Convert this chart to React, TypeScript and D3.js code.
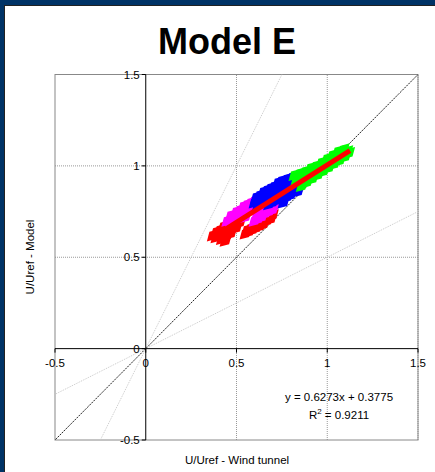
import React, { useEffect, useRef } from 'react';
import * as d3 from 'd3';

// series: [U/Uref wind tunnel, U/Uref model]
const redPts: [number, number][] = [
  [0.37, 0.62], [0.39, 0.61], [0.39, 0.64], [0.41, 0.62], [0.41, 0.65], [0.42, 0.60], [0.43, 0.63],
  [0.44, 0.59], [0.44, 0.66], [0.45, 0.62], [0.46, 0.65], [0.46, 0.68], [0.47, 0.63], [0.48, 0.67],
  [0.49, 0.69], [0.50, 0.66], [0.50, 0.70], [0.51, 0.72], [0.52, 0.69], [0.43, 0.67],
  [0.55, 0.63], [0.56, 0.65], [0.57, 0.64], [0.58, 0.66], [0.59, 0.65], [0.60, 0.67], [0.61, 0.66],
  [0.62, 0.68], [0.63, 0.67], [0.64, 0.70], [0.65, 0.68], [0.66, 0.71], [0.67, 0.70], [0.68, 0.72],
  [0.69, 0.71], [0.70, 0.73]
];
const magentaPts: [number, number][] = [
  [0.45, 0.70], [0.47, 0.70], [0.47, 0.73], [0.49, 0.72], [0.50, 0.75], [0.51, 0.73], [0.52, 0.76],
  [0.53, 0.74], [0.54, 0.78], [0.55, 0.76], [0.56, 0.79], [0.57, 0.77], [0.58, 0.80], [0.59, 0.78],
  [0.60, 0.81], [0.55, 0.72],
  [0.60, 0.70], [0.61, 0.72], [0.62, 0.71], [0.63, 0.74], [0.64, 0.72], [0.65, 0.75], [0.66, 0.74],
  [0.67, 0.77], [0.68, 0.75], [0.69, 0.77], [0.70, 0.76], [0.71, 0.78]
];
const bluePts: [number, number][] = [
  [0.60, 0.80], [0.61, 0.83], [0.62, 0.79], [0.63, 0.84], [0.64, 0.81], [0.65, 0.86], [0.66, 0.82],
  [0.67, 0.87], [0.68, 0.84], [0.69, 0.88], [0.70, 0.85], [0.71, 0.89], [0.72, 0.81], [0.72, 0.86],
  [0.73, 0.91], [0.74, 0.83], [0.74, 0.88], [0.75, 0.92], [0.76, 0.80], [0.76, 0.86], [0.77, 0.90],
  [0.78, 0.93], [0.78, 0.83], [0.79, 0.88], [0.80, 0.92], [0.80, 0.84], [0.81, 0.94], [0.82, 0.87],
  [0.82, 0.91], [0.84, 0.86], [0.85, 0.89], [0.70, 0.80], [0.68, 0.79]
];
const greenPts: [number, number][] = [
  [0.82, 0.95], [0.83, 0.92], [0.85, 0.96], [0.86, 0.89], [0.87, 0.93], [0.88, 0.97], [0.89, 0.91],
  [0.90, 0.95], [0.91, 0.99], [0.92, 0.93], [0.93, 0.97], [0.94, 1.00], [0.95, 0.95], [0.96, 0.99],
  [0.97, 1.02], [0.98, 0.97], [0.99, 1.01], [1.00, 1.04], [1.01, 0.99], [1.02, 1.03], [1.03, 1.06],
  [1.04, 1.01], [1.05, 1.05], [1.06, 1.08], [1.07, 1.03], [1.08, 1.07], [1.09, 1.09], [1.10, 1.05],
  [1.11, 1.08], [1.12, 1.07]
];
const seriesColors = ['#ff0000', '#ff00ff', '#0000ff', '#00ff00'];

const fitSlope = 0.6273;
const fitIntercept = 0.3775;
const fitRange = [0.43, 1.125];

const tickVals = [-0.5, 0, 0.5, 1, 1.5];
const gridVals = [0.5, 1, 1.5];
const refSlopes = [1, 2, 0.5];

export default function App() {
  const ref = useRef<SVGSVGElement>(null);

  useEffect(() => {
    const svg = d3.select(ref.current);
    svg.selectAll('*').remove();

    const x = d3.scaleLinear().domain([-0.5, 1.5]).range([55, 418]);
    const y = d3.scaleLinear().domain([-0.5, 1.5]).range([440, 74.5]);

    svg.append('rect').attr('width', 435).attr('height', 472).attr('fill', '#fff');
    // dark frame
    svg.append('rect').attr('x', 0).attr('y', 0).attr('width', 435).attr('height', 5).attr('fill', '#003366');
    svg.append('rect').attr('x', 0).attr('y', 0).attr('width', 4).attr('height', 472).attr('fill', '#003366');
    svg.append('line').attr('x1', 4.5).attr('x2', 4.5).attr('y1', 5).attr('y2', 472).attr('stroke', '#222').attr('stroke-width', 1);
    svg.append('line').attr('x1', 4).attr('x2', 435).attr('y1', 5.5).attr('y2', 5.5).attr('stroke', '#222').attr('stroke-width', 1);

    svg.append('text').attr('x', 227).attr('y', 54).attr('text-anchor', 'middle')
      .attr('font-family', 'Liberation Sans, Arial, sans-serif').attr('font-weight', 'bold')
      .attr('font-size', 36).text('Model E');

    // grid
    const g = svg.append('g');
    gridVals.forEach(v => {
      g.append('line').attr('x1', x(v)).attr('x2', x(v)).attr('y1', y(-0.5)).attr('y2', y(1.5))
        .attr('stroke', '#999').attr('stroke-dasharray', '1,1');
      g.append('line').attr('x1', x(-0.5)).attr('x2', x(1.5)).attr('y1', y(v)).attr('y2', y(v))
        .attr('stroke', '#999').attr('stroke-dasharray', '1,1');
    });
    g.append('rect').attr('x', x(-0.5)).attr('y', y(1.5)).attr('width', x(1.5) - x(-0.5))
      .attr('height', y(-0.5) - y(1.5)).attr('fill', 'none').attr('stroke', '#888');

    // reference lines y = k x, clipped to the plot
    svg.append('clipPath').attr('id', 'pc').append('rect')
      .attr('x', x(-0.5)).attr('y', y(1.5)).attr('width', x(1.5) - x(-0.5)).attr('height', y(-0.5) - y(1.5));
    const refG = svg.append('g').attr('clip-path', 'url(#pc)');
    refSlopes.forEach(k => {
      refG.append('line').attr('x1', x(-2)).attr('y1', y(-2 * k)).attr('x2', x(2)).attr('y2', y(2 * k))
        .attr('stroke', k === 1 ? '#222' : '#c8c8c8').attr('stroke-width', 1)
        .attr('stroke-dasharray', k === 1 ? '2,1' : '1,1');
    });

    // axes through zero
    const ax = svg.append('g');
    ax.append('line').attr('x1', x(-0.5)).attr('x2', x(1.5)).attr('y1', y(0)).attr('y2', y(0)).attr('stroke', '#000');
    ax.append('line').attr('x1', x(0)).attr('x2', x(0)).attr('y1', y(-0.5)).attr('y2', y(1.5)).attr('stroke', '#000');
    tickVals.forEach(v => {
      ax.append('line').attr('x1', x(v)).attr('x2', x(v)).attr('y1', y(0)).attr('y2', y(0) + 4).attr('stroke', '#000');
      ax.append('line').attr('x1', x(0) - 4).attr('x2', x(0)).attr('y1', y(v)).attr('y2', y(v)).attr('stroke', '#000');
      ax.append('text').attr('x', x(v)).attr('y', y(0) + 18).attr('text-anchor', 'middle')
        .attr('font-family', 'Liberation Sans, Arial, sans-serif').attr('font-size', 11.5).text(String(v));
      ax.append('text').attr('x', x(0) - 6).attr('y', y(v) + 4).attr('text-anchor', 'end')
        .attr('font-family', 'Liberation Sans, Arial, sans-serif').attr('font-size', 11.5).text(String(v));
    });

    // scatter
    const diamond = d3.symbol().type(d3.symbolDiamond).size(50);
    [redPts, magentaPts, bluePts, greenPts].forEach((pts, i) => {
      svg.append('g').selectAll('path').data(pts).enter().append('path')
        .attr('d', diamond)
        .attr('transform', d => `translate(${x(d[0])},${y(d[1])}) rotate(45)`)
        .attr('fill', seriesColors[i]).attr('stroke', seriesColors[i]).attr('stroke-width', 2);
    });

    // trend line
    const line = d3.line<number>().x(d => x(d)).y(d => y(fitSlope * d + fitIntercept));
    svg.append('path').datum(fitRange).attr('d', line).attr('stroke', '#ff0000')
      .attr('stroke-width', 5).attr('fill', 'none');

    const ann = svg.append('g').attr('font-family', 'Liberation Sans, Arial, sans-serif').attr('font-size', 11.5);
    ann.append('text').attr('x', 339).attr('y', 401).attr('text-anchor', 'middle').text('y = 0.6273x + 0.3775');
    const r2 = ann.append('text').attr('x', 339).attr('y', 419).attr('text-anchor', 'middle');
    r2.append('tspan').text('R');
    r2.append('tspan').attr('dy', -5).attr('font-size', 8).text('2');
    r2.append('tspan').attr('dy', 5).text(' = 0.9211');

    svg.append('text').attr('x', 237).attr('y', 464).attr('text-anchor', 'middle')
      .attr('font-family', 'Liberation Sans, Arial, sans-serif').attr('font-size', 11.5).text('U/Uref - Wind tunnel');
    svg.append('text').attr('transform', 'translate(34,257) rotate(-90)').attr('text-anchor', 'middle')
      .attr('font-family', 'Liberation Sans, Arial, sans-serif').attr('font-size', 11.5).text('U/Uref - Model');
  }, []);

  return (
    <svg ref={ref} width={435} height={472}
      style={{ position: 'absolute', left: 0, top: 0, display: 'block' }} />
  );
}
